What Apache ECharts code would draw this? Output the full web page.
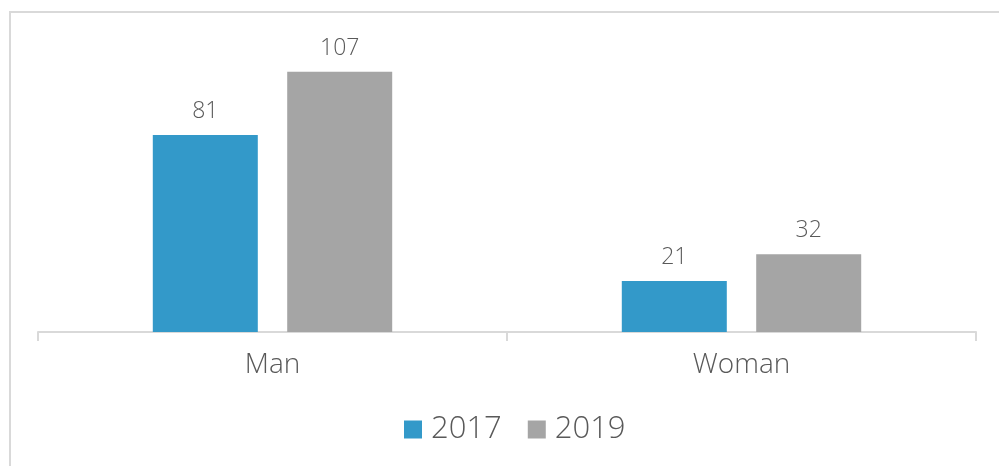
<!DOCTYPE html>
<html>
<head>
<meta charset="utf-8">
<script src="https://cdn.jsdelivr.net/npm/echarts@6/dist/echarts.min.js"></script>
<style>
  html, body { margin: 0; padding: 0; background: #fff; }
  #chart { width: 999px; height: 466px; }
</style>
</head>
<body>
<div id="chart"></div>
<script>
const categories = ['Man', 'Woman'];
const seriesNames = ['2017', '2019'];
const values2017 = [81, 21];
const values2019 = [107, 32];
const colors = ['#3399c9', '#a5a5a5'];

const chart = echarts.init(document.getElementById('chart'));
const textColor = '#595959';
const fontFamily = '"Open Sans", Lato, sans-serif';

function makeSeries(name, data, color) {
  return {
    name: name,
    type: 'bar',
    data: data,
    barWidth: 105,
    barGap: '28%',
    itemStyle: { color: color },
    label: {
      show: true,
      position: 'top',
      distance: 12,
      color: textColor,
      fontSize: 23,
      fontFamily: fontFamily,
      fontWeight: 300
    }
  };
}

chart.setOption({
  animation: false,
  backgroundColor: '#fff',
  graphic: [{
    type: 'polyline',
    shape: { points: [[10, 470], [10, 12], [1005, 12]] },
    style: { stroke: '#d9d9d9', lineWidth: 2, fill: null },
    silent: true
  }],
  grid: { left: 38, right: 23, top: 40, bottom: 134 },
  legend: {
    data: seriesNames,
    bottom: 16,
    left: 399,
    itemWidth: 18,
    itemHeight: 18,
    itemGap: 26,
    icon: 'rect',
    textStyle: { color: textColor, fontSize: 31, fontFamily: fontFamily, fontWeight: 300, padding: [0, 0, 0, 4] }
  },
  xAxis: {
    type: 'category',
    data: categories,
    axisLine: { lineStyle: { color: '#d9d9d9', width: 2 } },
    axisTick: { show: true, length: 9, lineStyle: { color: '#d9d9d9', width: 2 } },
    axisLabel: { color: textColor, fontSize: 28, fontFamily: fontFamily, fontWeight: 300, margin: 19 }
  },
  yAxis: {
    type: 'value',
    min: 0,
    max: 120,
    show: false,
    splitLine: { show: false }
  },
  series: [
    makeSeries(seriesNames[0], values2017, colors[0]),
    makeSeries(seriesNames[1], values2019, colors[1])
  ]
});
</script>
</body>
</html>
